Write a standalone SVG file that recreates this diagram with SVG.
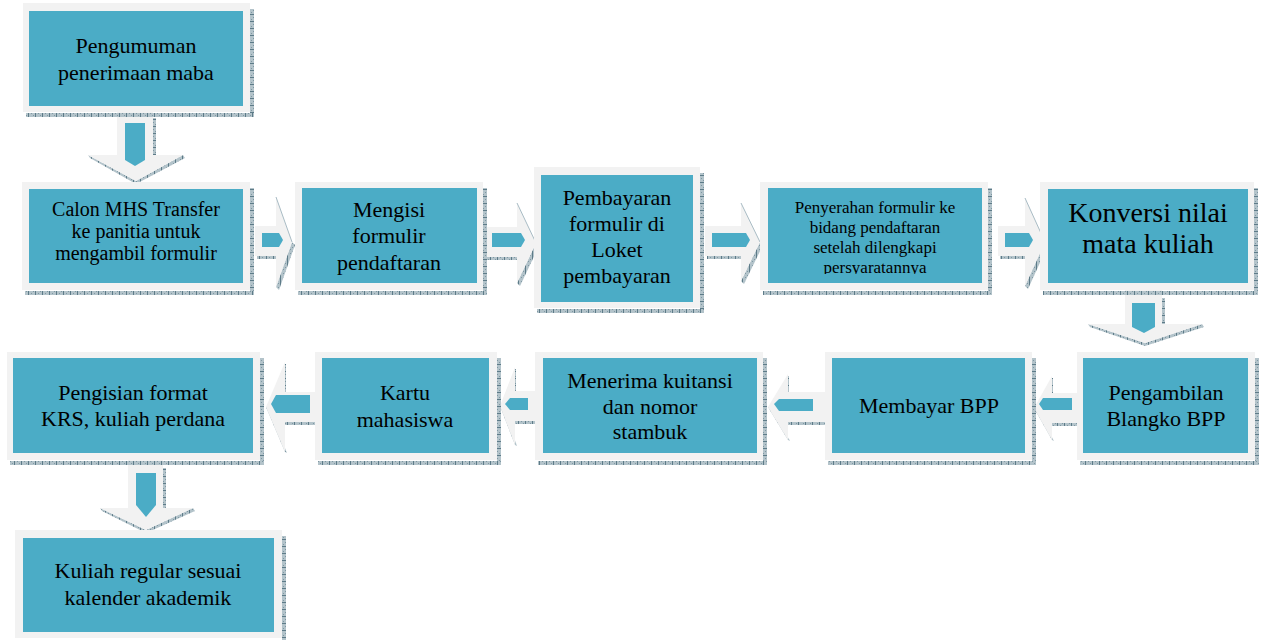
<svg xmlns="http://www.w3.org/2000/svg" width="1263" height="640" viewBox="0 0 1263 640">
<defs>
<pattern id="hp" width="7" height="4" patternUnits="userSpaceOnUse"><rect width="7" height="4" fill="#b3c3ca"/><rect width="1" height="4" fill="#5d7b88"/><rect x="3" y="1" width="1" height="1" fill="#7f98a3"/><rect x="5" y="3" width="1" height="1" fill="#7f98a3"/></pattern>
<pattern id="vp" width="4" height="7" patternUnits="userSpaceOnUse"><rect width="4" height="7" fill="#b3c3ca"/><rect width="4" height="1" fill="#5d7b88"/><rect x="1" y="3" width="1" height="1" fill="#7f98a3"/><rect x="3" y="5" width="1" height="1" fill="#7f98a3"/></pattern>
<clipPath id="c5"><rect x="768" y="188" width="214" height="86"/></clipPath>
</defs>
<style>
.o{fill:#f2f2f2}
.i{fill:#4bacc6}
.sh{fill:url(#hp)}
.sv{fill:url(#vp)}
.g{fill:#f2f2f2}
.ln{fill:none;stroke:#a9bcc5;stroke-width:1}
text{font-family:"Liberation Serif","Times New Roman",serif;fill:#000;text-anchor:middle}
.f22{font-size:22px}
.f20{font-size:20px}
.f17{font-size:17px}
.f28{font-size:28px}
</style>
<rect width="1263" height="640" fill="#fff"/>
<g id="connectors">
<!-- down 1->2 -->
<g>
<rect class="sv" x="153" y="118" width="3" height="37"/>
<polygon class="sh" points="88,155 136,181 183,155 185,158 136,184 90,158"/>
<polygon class="g" points="117,112 153,112 153,155 183,155 136,181 88,155 117,155"/>
<polygon class="i" points="125,123 145,123 145,160 135,166 125,160"/>
</g>
<!-- right 2->3 -->
<g>
<rect class="sh" x="257" y="256" width="19" height="3"/>
<polygon class="sh" points="292,242 295,245 279,290 276,287"/>
<polygon class="g" points="255,226 276,226 276,197 292,242 276,287 276,256 255,256"/>
<line class="ln" x1="276" y1="197" x2="292" y2="242"/>
<polygon class="i" points="262,233 279,233 283,240 279,247 262,247"/>
</g>
<!-- right 3->4 -->
<g>
<rect class="sh" x="487" y="257" width="30" height="3"/>
<polygon class="sh" points="536,243 539,246 520,286 517,283"/>
<polygon class="g" points="485,227 517,227 517,203 536,243 517,283 517,257 485,257"/>
<line class="ln" x1="517" y1="203" x2="536" y2="243"/>
<polygon class="i" points="492,233 521,233 525,240 521,247 492,247"/>
</g>
<!-- right 4->5 -->
<g>
<rect class="sh" x="707" y="256" width="34" height="3"/>
<polygon class="sh" points="760,242 763,245 744,284 741,281"/>
<polygon class="g" points="705,226 741,226 741,203 760,242 741,281 741,256 705,256"/>
<line class="ln" x1="741" y1="203" x2="760" y2="242"/>
<polygon class="i" points="712,233 746,233 750,240 746,247 712,247"/>
</g>
<!-- right 5->6 -->
<g>
<rect class="sh" x="1000" y="256" width="25" height="3"/>
<polygon class="sh" points="1045,242 1048,245 1028,289 1025,286"/>
<polygon class="g" points="998,226 1025,226 1025,198 1045,242 1025,286 1025,256 998,256"/>
<line class="ln" x1="1025" y1="198" x2="1045" y2="242"/>
<polygon class="i" points="1005,233 1029,233 1033,240 1029,247 1005,247"/>
</g>
<!-- down 6->7 -->
<g>
<rect class="sv" x="1162" y="298" width="3" height="26"/>
<polygon class="sh" points="1088,324 1145,343 1202,324 1204,327 1145,346 1090,327"/>
<polygon class="g" points="1125,290 1162,290 1162,324 1202,324 1145,343 1088,324 1125,324"/>
<polygon class="i" points="1132,303 1155,303 1155,327 1144,333 1132,327"/>
</g>
<!-- left 7->8 -->
<g>
<rect class="sv" x="1051" y="378" width="2" height="15"/>
<rect class="sh" x="1052" y="423" width="25" height="3"/>
<polygon class="sh" points="1034,408 1037,410 1054,441 1052,440"/>
<polygon class="g" points="1077,393 1052,393 1052,376 1034,408 1052,440 1052,423 1077,423"/>
<polygon class="i" points="1039,404 1043,398 1072,398 1072,410 1043,410"/>
</g>
<!-- left 8->9 -->
<g>
<rect class="sv" x="787" y="376" width="2" height="16"/>
<rect class="sh" x="788" y="422" width="37" height="3"/>
<polygon class="sh" points="768,407 771,409 790,441 788,440"/>
<polygon class="g" points="825,392 788,392 788,374 768,407 788,440 788,422 825,422"/>
<polygon class="i" points="774,404 779,399 813,399 813,411 779,411"/>
</g>
<!-- left 9->10 -->
<g>
<rect class="sv" x="514" y="369" width="2" height="22"/>
<rect class="sh" x="515" y="421" width="20" height="3"/>
<polygon class="sh" points="500,406 503,408 517,446 515,445"/>
<polygon class="g" points="535,391 515,391 515,367 500,406 515,445 515,421 535,421"/>
<polygon class="i" points="505,404 510,398 528,398 528,410 510,410"/>
</g>
<!-- left 10->11 -->
<g>
<rect class="sv" x="284" y="364" width="2" height="28"/>
<rect class="sh" x="285" y="422" width="30" height="3"/>
<polygon class="sh" points="266,407 269,409 287,453 285,452"/>
<polygon class="g" points="315,392 285,392 285,362 266,407 285,452 285,422 315,422"/>
<polygon class="i" points="271,404 276,395 310,395 310,413 276,413"/>
</g>
<!-- down 11->12 -->
<g>
<rect class="sv" x="163" y="468" width="3" height="40"/>
<polygon class="sh" points="100,508 146,530 193,508 195,511 146,533 102,511"/>
<polygon class="g" points="128,460 163,460 163,508 193,508 146,530 100,508 128,508"/>
<polygon class="i" points="136,473 156,473 156,505 146,517 136,505"/>
</g>
</g>

<g id="n1">
<rect class="sv" x="250" y="9" width="4" height="108"/>
<rect class="sh" x="26" y="113" width="228" height="4"/>
<rect class="o" x="23" y="3" width="227" height="109"/>
<rect class="i" x="29" y="11" width="214" height="95"/>
<text class="f22" x="136" y="53">Pengumuman</text>
<text class="f22" x="136" y="80">penerimaan maba</text>
</g>
<g id="n2">
<rect class="sv" x="250" y="188" width="4" height="107"/>
<rect class="sh" x="25" y="291" width="229" height="4"/>
<rect class="o" x="22" y="182" width="228" height="108"/>
<rect class="i" x="29" y="189" width="214" height="94"/>
<text class="f20" x="136" y="216">Calon MHS Transfer</text>
<text class="f20" x="136" y="238">ke panitia untuk</text>
<text class="f20" x="136" y="260">mengambil formulir</text>
</g>
<g id="n3">
<rect class="sv" x="483" y="188" width="4" height="107"/>
<rect class="sh" x="298" y="291" width="189" height="4"/>
<rect class="o" x="295" y="182" width="188" height="108"/>
<rect class="i" x="302" y="188" width="175" height="95"/>
<text class="f22" x="389" y="217">Mengisi</text>
<text class="f22" x="389" y="243">formulir</text>
<text class="f22" x="389" y="270">pendaftaran</text>
</g>
<g id="n4">
<rect class="sv" x="700" y="173" width="4" height="140"/>
<rect class="sh" x="537" y="309" width="167" height="4"/>
<rect class="o" x="534" y="167" width="166" height="141"/>
<rect class="i" x="541" y="175" width="152" height="127"/>
<text class="f22" x="617" y="205">Pembayaran</text>
<text class="f22" x="617" y="231">formulir di</text>
<text class="f22" x="617" y="257">Loket</text>
<text class="f22" x="617" y="283">pembayaran</text>
</g>
<g id="n5">
<rect class="sv" x="988" y="188" width="4" height="107"/>
<rect class="sh" x="763" y="291" width="229" height="4"/>
<rect class="o" x="760" y="182" width="228" height="108"/>
<rect class="i" x="768" y="188" width="214" height="95"/>
<g clip-path="url(#c5)">
<text class="f17" x="875" y="213">Penyerahan formulir ke</text>
<text class="f17" x="875" y="233">bidang pendaftaran</text>
<text class="f17" x="875" y="253">setelah dilengkapi</text>
<text class="f17" x="875" y="273">persyaratannya</text>
</g>
</g>
<g id="n6">
<rect class="sv" x="1254" y="188" width="4" height="107"/>
<rect class="sh" x="1043" y="291" width="215" height="4"/>
<rect class="o" x="1040" y="182" width="214" height="108"/>
<rect class="i" x="1048" y="189" width="200" height="94"/>
<text class="f28" x="1148" y="222">Konversi nilai</text>
<text class="f28" x="1148" y="253">mata kuliah</text>
</g>
<g id="n7">
<rect class="sv" x="1255" y="358" width="4" height="107"/>
<rect class="sh" x="1080" y="461" width="179" height="4"/>
<rect class="o" x="1077" y="352" width="178" height="108"/>
<rect class="i" x="1083" y="358" width="165" height="95"/>
<text class="f22" x="1166" y="400">Pengambilan</text>
<text class="f22" x="1166" y="426">Blangko BPP</text>
</g>
<g id="n8">
<rect class="sv" x="1032" y="358" width="4" height="107"/>
<rect class="sh" x="828" y="461" width="208" height="4"/>
<rect class="o" x="825" y="352" width="207" height="108"/>
<rect class="i" x="832" y="358" width="193" height="95"/>
<text class="f22" x="929" y="413">Membayar BPP</text>
</g>
<g id="n9">
<rect class="sv" x="763" y="358" width="4" height="107"/>
<rect class="sh" x="538" y="461" width="229" height="4"/>
<rect class="o" x="535" y="352" width="228" height="108"/>
<rect class="i" x="543" y="358" width="214" height="95"/>
<text class="f22" x="650" y="388">Menerima kuitansi</text>
<text class="f22" x="650" y="414">dan nomor</text>
<text class="f22" x="650" y="439">stambuk</text>
</g>
<g id="n10">
<rect class="sv" x="497" y="358" width="4" height="107"/>
<rect class="sh" x="318" y="461" width="183" height="4"/>
<rect class="o" x="315" y="352" width="182" height="108"/>
<rect class="i" x="322" y="358" width="167" height="95"/>
<text class="f22" x="405" y="400">Kartu</text>
<text class="f22" x="405" y="427">mahasiswa</text>
</g>
<g id="n11">
<rect class="sv" x="260" y="358" width="4" height="107"/>
<rect class="sh" x="10" y="461" width="254" height="4"/>
<rect class="o" x="7" y="352" width="253" height="108"/>
<rect class="i" x="13" y="358" width="240" height="95"/>
<text class="f22" x="133" y="400">Pengisian format</text>
<text class="f22" x="133" y="426">KRS, kuliah perdana</text>
</g>
<g id="n12">
<rect class="sv" x="282" y="536" width="4" height="104"/>
<rect class="o" x="15" y="530" width="267" height="108"/>
<rect class="i" x="23" y="538" width="251" height="94"/>
<text class="f22" x="148" y="578">Kuliah regular sesuai</text>
<text class="f22" x="148" y="605">kalender akademik</text>
</g>
</svg>
